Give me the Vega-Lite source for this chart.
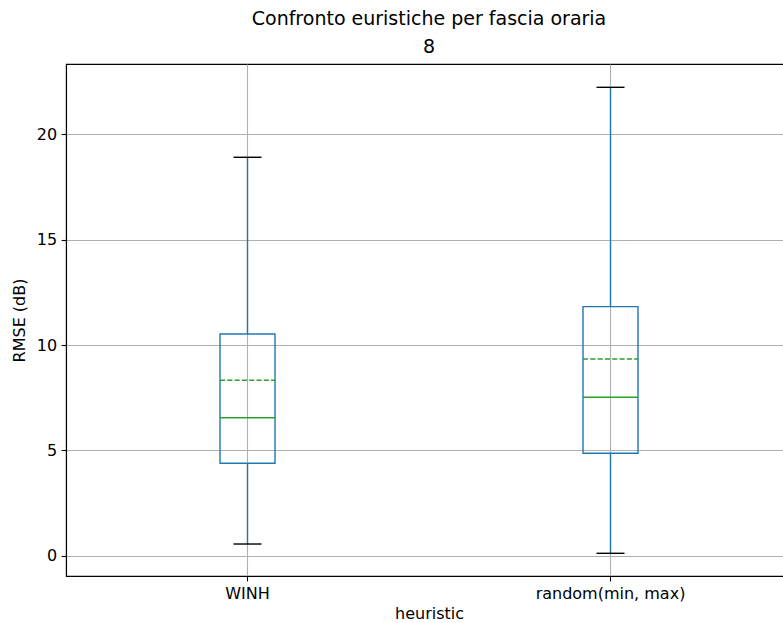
{
  "$schema": "https://vega.github.io/schema/vega-lite/v6.json",
  "width": 726,
  "height": 512,
  "autosize": {"type": "none"},
  "padding": {"left": 66, "top": 64, "right": 0, "bottom": 47},
  "background": "white",
  "title": {
    "text": "Confronto euristiche per fascia oraria",
    "subtitle": "8",
    "anchor": "middle",
    "frame": "group",
    "font": "DejaVu Sans",
    "subtitleFont": "DejaVu Sans",
    "fontSize": 19,
    "subtitleFontSize": 19,
    "fontWeight": "normal",
    "color": "black",
    "subtitleColor": "black",
    "offset": 7,
    "subtitlePadding": 9
  },
  "config": {
    "view": {"stroke": "black", "strokeWidth": 1.1},
    "axis": {
      "domainColor": "black",
      "domainWidth": 1.1,
      "tickColor": "black",
      "tickWidth": 1.1,
      "tickSize": 4.9,
      "labelFont": "DejaVu Sans",
      "labelFontSize": 16,
      "labelColor": "black",
      "labelPadding": 4.5,
      "titleFont": "DejaVu Sans",
      "titleFontSize": 16,
      "titleFontWeight": "normal",
      "titleColor": "black",
      "gridColor": "#b0b0b0",
      "gridWidth": 1.1
    }
  },
  "data": {
    "values": [
      {"heuristic": "WINH", "lower": 0.555, "q1": 4.385, "median": 6.55, "mean": 8.325, "q3": 10.52, "upper": 18.91},
      {"heuristic": "random(min, max)", "lower": 0.114, "q1": 4.86, "median": 7.52, "mean": 9.335, "q3": 11.82, "upper": 22.23}
    ]
  },
  "encoding": {
    "x": {
      "field": "heuristic",
      "type": "nominal",
      "sort": null,
      "scale": {"type": "band", "paddingInner": 0, "paddingOuter": 0},
      "axis": {"title": "heuristic", "labelAngle": 0, "grid": true, "bandPosition": 0.5, "titlePadding": 4}
    }
  },
  "layer": [
    {
      "mark": {"type": "rule", "color": "#1f77b4", "strokeWidth": 1.4, "opacity": 1},
      "encoding": {
        "y": {
          "field": "lower",
          "type": "quantitative",
          "scale": {"domain": [-0.963, 23.337], "nice": false, "zero": false},
          "axis": {"title": "RMSE (dB)", "values": [0, 5, 10, 15, 20], "grid": true, "titlePadding": 9}
        },
        "y2": {"field": "q1"}
      }
    },
    {
      "mark": {"type": "rule", "color": "#1f77b4", "strokeWidth": 1.4, "opacity": 1},
      "encoding": {
        "y": {"field": "q3", "type": "quantitative"},
        "y2": {"field": "upper"}
      }
    },
    {
      "mark": {"type": "bar", "width": 55, "filled": false, "color": "#1f77b4", "strokeWidth": 1.4, "opacity": 1},
      "encoding": {
        "y": {"field": "q1", "type": "quantitative"},
        "y2": {"field": "q3"}
      }
    },
    {
      "mark": {"type": "tick", "color": "black", "size": 28, "thickness": 1.4, "opacity": 1},
      "encoding": {"y": {"field": "lower", "type": "quantitative"}}
    },
    {
      "mark": {"type": "tick", "color": "black", "size": 28, "thickness": 1.4, "opacity": 1},
      "encoding": {"y": {"field": "upper", "type": "quantitative"}}
    },
    {
      "mark": {"type": "tick", "color": "#2ca02c", "size": 55, "thickness": 1.4, "opacity": 1},
      "encoding": {"y": {"field": "median", "type": "quantitative"}}
    },
    {
      "mark": {"type": "rule", "color": "#2ca02c", "strokeWidth": 1.4, "strokeDash": [5.1, 2.2], "xOffset": 154, "x2Offset": -154, "opacity": 1},
      "encoding": {
        "x": {"field": "heuristic", "type": "nominal", "sort": null, "bandPosition": 0},
        "x2": {"field": "heuristic", "bandPosition": 1},
        "y": {"field": "mean", "type": "quantitative"}
      }
    }
  ]
}
